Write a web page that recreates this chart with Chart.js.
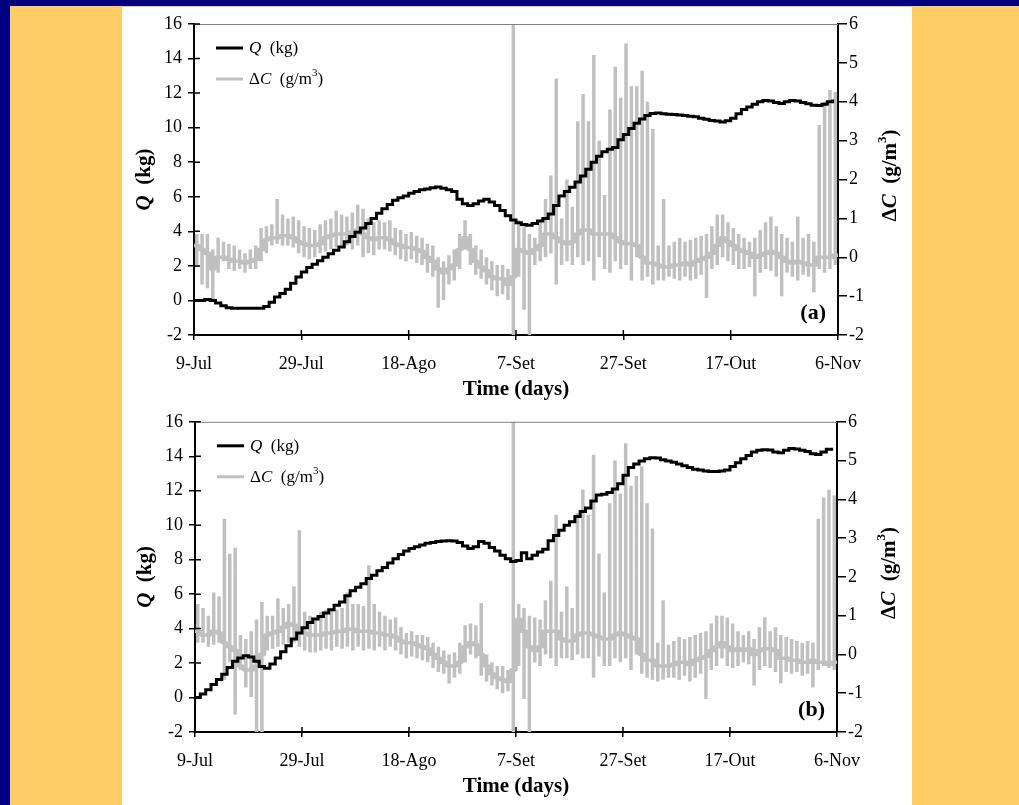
<!DOCTYPE html>
<html>
<head>
<meta charset="utf-8">
<title>Q e ΔC</title>
<script src="https://cdn.jsdelivr.net/npm/chart.js@4.4.1/dist/chart.umd.min.js"></script>
<style>
  html, body { margin: 0; padding: 0; }
  body { width: 1019px; height: 805px; background: #ffcc66; position: relative; overflow: hidden; }
  #barraTopo { position: absolute; left: 0; top: 0; width: 1019px; height: 6px; background: #000080; }
  #barraEsq { position: absolute; left: 0; top: 0; width: 10px; height: 805px; background: #000080; }
  #painel { position: absolute; left: 122px; top: 7px; width: 790px; height: 798px; background: #fff; }
  canvas { position: absolute; left: 122px; }
  #graficoA { top: 7px; }
  #graficoB { top: 405px; }
</style>
</head>
<body>
<div id="barraTopo"></div>
<div id="barraEsq"></div>
<div id="painel"></div>
<canvas id="graficoA" width="790" height="398"></canvas>
<canvas id="graficoB" width="790" height="400"></canvas>
<script>
// dias desde 9-Jul (0..120), um rotulo a cada 20 dias
var rotulosDias = ["9-Jul", "29-Jul", "18-Ago", "7-Set", "27-Set", "17-Out", "6-Nov"];

// (a) Q diario (kg)
var qA = [
  0.0, 0.0, 0.05, 0.0, -0.15, -0.3, -0.42, -0.45, -0.45, -0.45,
  -0.45, -0.45, -0.45, -0.35, -0.1, 0.2, 0.4, 0.65, 1.0, 1.35,
  1.65, 1.9, 2.1, 2.3, 2.5, 2.7, 2.9, 3.1, 3.4, 3.7,
  3.95, 4.2, 4.45, 4.75, 5.05, 5.3, 5.55, 5.8, 5.95, 6.05,
  6.2, 6.3, 6.4, 6.45, 6.52, 6.56, 6.5, 6.4, 6.3, 5.85,
  5.6, 5.5, 5.6, 5.75, 5.85, 5.7, 5.5, 5.2, 4.9, 4.65,
  4.5, 4.4, 4.35, 4.45, 4.6, 4.75, 5.0, 5.5, 6.05, 6.3,
  6.55, 6.85, 7.2, 7.6, 8.0, 8.35, 8.6, 8.75, 8.85, 9.3,
  9.6, 9.95, 10.25, 10.5, 10.7, 10.82, 10.85, 10.8, 10.78, 10.76,
  10.74, 10.7, 10.66, 10.63, 10.55, 10.48, 10.42, 10.38, 10.33, 10.4,
  10.55, 10.8, 11.05, 11.2, 11.35, 11.5, 11.57, 11.55, 11.45, 11.4,
  11.5, 11.57, 11.55, 11.45, 11.38, 11.3, 11.28, 11.35, 11.5, 11.63
];
// (a) ΔC por dia: nivel, pico e vale (g/m3)
var baseA = [
  0.3, 0.2, 0.1, -0.3, 0.0, 0.0, -0.05, -0.1, -0.1, -0.15,
  -0.1, -0.05, 0.2, 0.45, 0.5, 0.5, 0.55, 0.55, 0.5, 0.4,
  0.35, 0.3, 0.3, 0.35, 0.5, 0.55, 0.6, 0.6, 0.6, 0.65,
  0.7, 0.6, 0.5, 0.45, 0.5, 0.5, 0.45, 0.35, 0.3, 0.25,
  0.25, 0.2, 0.15, 0.0, -0.1, -0.3, -0.4, -0.3, -0.2, 0.2,
  0.5, 0.2, -0.1, -0.25, -0.35, -0.5, -0.55, -0.55, -0.7, -0.5,
  0.2, 0.15, 0.1, 0.2, 0.3, 0.6, 0.6, 0.5, 0.4, 0.35,
  0.4, 0.6, 0.7, 0.7, 0.6, 0.6, 0.6, 0.6, 0.5, 0.4,
  0.35, 0.35, 0.3, 0.0, -0.15, -0.15, -0.2, -0.25, -0.25, -0.2,
  -0.2, -0.15, -0.2, -0.1, -0.05, 0.0, 0.1, 0.3, 0.5, 0.4,
  0.3, 0.2, 0.15, 0.1, 0.0, 0.05, 0.1, 0.15, 0.1, 0.0,
  -0.1, -0.15, -0.1, -0.15, -0.2, -0.2, 0.0, 0.0, 0.0, 0.05
];
var altoA = [
  0.6, 0.6, 0.6, 0.2, 0.5, 0.4, 0.35, 0.3, 0.2, 0.1,
  0.2, 0.3, 0.75, 0.8, 0.85, 1.5, 1.1, 1.0, 1.05, 0.95,
  0.8, 0.75, 0.7, 0.85, 0.95, 1.0, 1.2, 1.1, 1.05, 1.15,
  1.35, 1.25, 1.0, 0.9, 0.95, 0.9, 0.95, 0.75, 0.7, 0.6,
  0.65, 0.55, 0.5, 0.35, 0.3, 0.0, -0.1, 0.05, 0.2, 0.6,
  0.95, 0.6, 0.3, 0.2, 0.0, -0.1, -0.2, -0.2, -0.3, 6.0,
  0.95, 0.8, 0.6, 0.5, 0.9, 1.5, 2.1, 4.6, 1.0, 2.0,
  1.3, 3.5, 4.2, 3.5, 5.2, 3.0, 1.6, 3.8, 4.9, 4.1,
  5.5, 4.4, 4.4, 4.8, 4.0, 3.3, 0.3, 1.5, 0.3, 0.4,
  0.5, 0.4, 0.45, 0.5, 0.55, 0.6, 0.8, 1.1, 1.1, 0.9,
  0.75, 0.6, 0.5, 0.4, 0.5, 0.7, 0.9, 1.05, 0.8, 0.6,
  0.5, 0.4, 1.05, 0.5, 0.6, 0.4, 3.4, 4.0, 4.3, 4.25
];
var baixoA = [
  -0.25, -0.7, -0.8, -1.1, -0.4, -0.1, -0.3, -0.35, -0.3, -0.4,
  -0.3, -0.3, -0.1, 0.1, 0.3, 0.35, 0.3, 0.3, 0.25, 0.1,
  0.0, -0.05, 0.0, 0.1, 0.15, 0.2, 0.25, 0.3, 0.3, 0.2,
  0.3, 0.0, 0.1, 0.05, 0.2, 0.2, 0.15, 0.05, -0.05, -0.1,
  -0.05, -0.15, -0.2, -0.4, -0.5, -1.3, -1.1, -0.7, -0.6, -0.3,
  0.2, -0.2, -0.45, -0.55, -0.7, -0.85, -1.0, -0.95, -1.1, -2.0,
  -0.5, -1.35, -2.0, -0.2, -0.1, 0.0, 0.1, -0.7, -0.2, -0.1,
  -0.2, 0.0, -0.2, -0.1, -0.6, 0.0, -0.3, -0.4, -0.1, -0.3,
  -0.2, -0.6, 0.0, -0.6, -0.5, -0.7, -0.6, -0.6, -0.5, -0.55,
  -0.6, -0.5, -0.6, -0.55, -0.45, -1.05, -0.3, -0.2, 0.0, -0.1,
  -0.2, -0.3, -0.3, -0.25, -1.0, -0.4, -0.3, -0.35, -0.5, -1.0,
  -0.4, -0.5, -0.6, -0.45, -0.5, -0.9, -0.3, -0.4, -0.3, -0.2
];

// (b) Q diario (kg)
var qB = [
  0.0, 0.2, 0.45, 0.75, 1.05, 1.35, 1.75, 2.1, 2.3, 2.42,
  2.35, 2.1, 1.8, 1.7, 1.95, 2.3, 2.65, 3.0, 3.4, 3.75,
  4.05, 4.35, 4.55, 4.7, 4.9, 5.1, 5.35, 5.55, 5.9, 6.2,
  6.4, 6.6, 6.9, 7.1, 7.35, 7.55, 7.8, 8.05, 8.3, 8.5,
  8.65, 8.75, 8.85, 8.95, 9.0, 9.05, 9.08, 9.1, 9.08, 9.0,
  8.8, 8.65, 8.75, 9.05, 8.95, 8.7, 8.5, 8.25, 8.05, 7.9,
  7.95, 8.4, 8.05, 8.25, 8.45, 8.6, 9.1, 9.4, 9.7, 10.0,
  10.2, 10.5, 10.8, 11.0, 11.4, 11.75, 11.8, 11.9, 12.1, 12.4,
  12.9, 13.35, 13.55, 13.72, 13.85, 13.92, 13.9, 13.8, 13.72, 13.65,
  13.55, 13.45, 13.35, 13.25, 13.2, 13.15, 13.12, 13.12, 13.14, 13.2,
  13.4, 13.62, 13.85, 14.05, 14.25, 14.35, 14.38, 14.36, 14.25, 14.2,
  14.35, 14.45, 14.42, 14.35, 14.28, 14.15, 14.1, 14.25, 14.4, 14.5
];
// (b) ΔC por dia: nivel, pico e vale (g/m3)
var baseB = [
  0.6, 0.5, 0.5, 0.6, 0.55, 0.3, 0.2, 0.1, -0.3, -0.4,
  -0.4, -0.3, 0.0, 0.5, 0.55, 0.6, 0.7, 0.8, 0.75, 0.6,
  0.55, 0.5, 0.5, 0.5, 0.55, 0.55, 0.6, 0.6, 0.65, 0.65,
  0.6, 0.6, 0.6, 0.55, 0.55, 0.5, 0.5, 0.45, 0.35, 0.3,
  0.3, 0.25, 0.2, 0.15, 0.0, -0.1, -0.2, -0.3, -0.3, -0.2,
  0.2, 0.3, 0.25, 0.0, -0.3, -0.5, -0.6, -0.65, -0.7, -0.4,
  0.9, 0.6, 0.2, 0.1, 0.2, 0.6, 0.6, 0.6, 0.4, 0.35,
  0.35, 0.5, 0.55, 0.55, 0.5, 0.45, 0.4, 0.4, 0.5, 0.55,
  0.5, 0.45, 0.4, 0.0, -0.15, -0.15, -0.3, -0.3, -0.3, -0.25,
  -0.2, -0.2, -0.25, -0.15, -0.1, -0.05, 0.1, 0.2, 0.3, 0.2,
  0.1, 0.15, 0.1, 0.15, 0.0, 0.1, 0.15, 0.15, 0.1, -0.1,
  -0.1, -0.15, -0.15, -0.2, -0.2, -0.15, -0.2, -0.2, -0.25, -0.2
];
var altoB = [
  1.3, 1.2, 1.0, 1.6, 1.5, 3.5, 2.6, 2.75, 0.5, 0.4,
  0.6, 0.9, 1.35, 1.0, 1.0, 1.45, 1.2, 1.3, 1.75, 3.2,
  1.1, 1.0, 0.9, 1.1, 1.15, 1.2, 1.15, 1.2, 1.6, 1.3,
  1.3, 1.25, 2.3, 1.3, 1.1, 1.0, 0.9, 0.95, 0.7, 0.55,
  0.6, 0.5, 0.5, 0.45, 0.3, 0.2, 0.1, 0.0, 0.05, 0.3,
  0.75, 0.8, 0.75, 1.33, 0.0, -0.2, -0.3, -0.3, -0.4, 6.0,
  1.3, 1.2, 1.0, 0.95, 0.9, 1.4, 1.9, 3.6, 1.1, 1.75,
  1.2, 3.65, 4.25, 3.6, 5.15, 2.6, 1.6, 3.9, 5.0, 4.15,
  5.45, 4.35, 4.6, 4.85, 3.9, 3.25, 0.3, 1.4, 0.25, 0.35,
  0.45, 0.4, 0.45, 0.5, 0.55, 0.6, 0.8, 1.0, 1.0, 0.95,
  0.8, 0.6, 0.5, 0.6, 0.4, 0.7, 0.95, 0.6, 0.7, 0.5,
  0.45, 0.4, 0.35, 0.3, 0.35, 0.3, 3.5, 4.05, 4.25, 4.1
];
var baixoB = [
  0.3, 0.3, 0.2, 0.25, 0.3, -0.65, -0.2, -1.55, -0.4, -0.85,
  -1.1, -2.0, -2.0, 0.1, 0.15, 0.2, 0.25, 0.3, 0.3, 0.2,
  0.1, 0.05, 0.05, 0.1, 0.15, 0.1, 0.2, 0.15, 0.2, 0.1,
  0.2, 0.1, 0.15, 0.1, 0.2, 0.1, 0.2, 0.1, 0.0, -0.1,
  -0.05, -0.1, -0.15, -0.2, -0.35, -0.45, -0.5, -0.75, -0.6, -0.5,
  -0.2, 0.0, -0.1, -0.55, -0.7, -0.8, -0.9, -1.0, -0.95, -2.0,
  -0.3, -1.15, -2.0, -0.2, -0.3, 0.0, -0.1, -0.3, -0.1, -0.1,
  -0.15, 0.0, -0.1, -0.1, -0.6, -0.05, -0.3, -0.3, -0.1, -0.2,
  -0.1, -0.4, 0.0, -0.5, -0.6, -0.65, -0.7, -0.65, -0.6, -0.6,
  -0.65, -0.55, -0.7, -0.6, -0.5, -1.15, -0.4, -0.3, -0.1, -0.3,
  -0.35, -0.3, -0.2, -0.25, -0.8, -0.4, -0.3, -0.35, -0.45, -0.75,
  -0.45, -0.5, -0.45, -0.55, -0.5, -0.85, -0.4, -0.3, -0.35, -0.4
];

var serif = "'Liberation Serif', 'Times New Roman', serif";
Chart.defaults.font.family = serif;
Chart.defaults.color = '#000';

function pontosQ(q) {
    return q.map(function(v, i) { return { x: i, y: v }; });
}

// cada dia: patamar, traco vertical do pico ao vale no meio do dia, degrau no fim
function pontosDc(base, alto, baixo) {
    var pts = [];
    for (var i = 0; i < base.length; i++) {
        pts.push({ x: i, y: base[i] });
        pts.push({ x: i + 0.5, y: base[i] });
        pts.push({ x: i + 0.5, y: alto[i] });
        pts.push({ x: i + 0.5, y: baixo[i] });
        pts.push({ x: i + 0.5, y: base[i] });
        pts.push({ x: i + 1, y: base[i] });
    }
    return pts;
}

function largura(ctx, partes) {
    var w = 0;
    partes.forEach(function(p) { ctx.font = p.f; w += ctx.measureText(p.t).width; });
    return w;
}

function escreve(ctx, x, y, partes) {
    partes.forEach(function(p) {
        ctx.font = p.f;
        ctx.fillText(p.t, x, y + (p.dy || 0));
        x += ctx.measureText(p.t).width;
    });
}

var decoracao = {
    id: 'decoracao',
    afterDraw: function(chart, args, o) {
        var ctx = chart.ctx, a = chart.chartArea;
        var sx = chart.scales.x, sy = chart.scales.y;
        ctx.save();

        ctx.strokeStyle = '#808080';
        ctx.lineWidth = 1;
        ctx.beginPath();
        ctx.moveTo(a.left, a.top + 0.5);
        ctx.lineTo(a.right, a.top + 0.5);
        ctx.stroke();

        ctx.strokeStyle = '#000';
        ctx.lineWidth = 1.5;
        ctx.beginPath();
        sx.ticks.forEach(function(t) {
            var p = sx.getPixelForValue(t.value);
            ctx.moveTo(p, a.bottom); ctx.lineTo(p, a.bottom - 5);
        });
        sy.ticks.forEach(function(t) {
            var p = sy.getPixelForValue(t.value);
            ctx.moveTo(a.left, p); ctx.lineTo(a.left + 6, p);
        });
        ctx.stroke();

        // legenda
        var lx = a.left + 22, ly1 = a.top + 24, ly2 = a.top + 55;
        ctx.lineWidth = 3;
        ctx.strokeStyle = '#000';
        ctx.beginPath(); ctx.moveTo(lx, ly1); ctx.lineTo(lx + 27, ly1); ctx.stroke();
        ctx.strokeStyle = '#c0c0c0';
        ctx.beginPath(); ctx.moveTo(lx, ly2); ctx.lineTo(lx + 27, ly2); ctx.stroke();
        ctx.fillStyle = '#000';
        ctx.textBaseline = 'middle';
        ctx.textAlign = 'left';
        escreve(ctx, lx + 33, ly1 + 1, [
            { t: 'Q', f: 'italic 17px ' + serif },
            { t: '  (kg)', f: '17px ' + serif }
        ]);
        escreve(ctx, lx + 33, ly2 + 1, [
            { t: 'Δ', f: '17px ' + serif },
            { t: 'C', f: 'italic 17px ' + serif },
            { t: '  (g/m', f: '17px ' + serif },
            { t: '3', f: '11px ' + serif, dy: -7 },
            { t: ')', f: '17px ' + serif }
        ]);

        // titulos dos eixos
        var meioY = (a.top + a.bottom) / 2;
        var tQ = [
            { t: 'Q', f: 'bold italic 21px ' + serif },
            { t: '  (kg)', f: 'bold 21px ' + serif }
        ];
        ctx.save();
        ctx.translate(a.left - 49, meioY);
        ctx.rotate(-Math.PI / 2);
        escreve(ctx, -largura(ctx, tQ) / 2, 0, tQ);
        ctx.restore();

        var tC = [
            { t: 'Δ', f: 'bold 21px ' + serif },
            { t: 'C', f: 'bold italic 21px ' + serif },
            { t: '  (g/m', f: 'bold 21px ' + serif },
            { t: '3', f: 'bold 13px ' + serif, dy: -8 },
            { t: ')', f: 'bold 21px ' + serif }
        ];
        ctx.save();
        ctx.translate(a.right + 53, meioY - 4);
        ctx.rotate(-Math.PI / 2);
        escreve(ctx, -largura(ctx, tC) / 2, 0, tC);
        ctx.restore();

        ctx.textAlign = 'center';
        ctx.font = 'bold 21px ' + serif;
        ctx.fillText('Time (days)', (a.left + a.right) / 2, a.bottom + 55);

        ctx.textAlign = 'right';
        ctx.font = 'bold 22px ' + serif;
        ctx.fillText(o.etiqueta, a.right - 12, a.bottom - 22);

        ctx.restore();
    }
};

function desenhaPainel(id, q, base, alto, baixo, etiqueta, padTopo, largEsq, largDir, altX) {
    var ctx = document.getElementById(id).getContext('2d');
    return new Chart(ctx, {
        type: 'line',
        data: {
            datasets: [
                {
                    label: 'Q (kg)',
                    data: pontosQ(q),
                    yAxisID: 'y',
                    borderColor: '#000',
                    borderWidth: 3,
                    stepped: true,
                    pointRadius: 0,
                    order: 0
                },
                {
                    label: 'ΔC (g/m3)',
                    data: pontosDc(base, alto, baixo),
                    yAxisID: 'y2',
                    borderColor: '#c0c0c0',
                    borderWidth: 3.5,
                    borderJoinStyle: 'bevel',
                    pointRadius: 0,
                    tension: 0,
                    order: 1
                }
            ]
        },
        options: {
            responsive: false,
            animation: false,
            devicePixelRatio: 1,
            events: [],
            layout: { padding: { top: padTopo, left: 0, right: 0, bottom: 0 } },
            plugins: {
                legend: { display: false },
                tooltip: { enabled: false },
                decoracao: { etiqueta: etiqueta }
            },
            scales: {
                x: {
                    type: 'linear',
                    min: 0,
                    max: 120,
                    afterFit: function(s) { s.height = altX; },
                    border: { color: '#000', width: 2 },
                    grid: { drawOnChartArea: false, drawTicks: true, tickLength: 5, color: '#000', lineWidth: 1.5 },
                    ticks: {
                        stepSize: 20,
                        autoSkip: false,
                        maxRotation: 0,
                        padding: 13,
                        font: { size: 18 },
                        callback: function(v) { return rotulosDias[v / 20]; }
                    }
                },
                y: {
                    position: 'left',
                    min: -2,
                    max: 16,
                    afterFit: function(s) { s.width = largEsq; },
                    border: { color: '#000', width: 2 },
                    grid: { drawOnChartArea: false, tickLength: 6, color: '#000', lineWidth: 1.5 },
                    ticks: { stepSize: 2, padding: 6, font: { size: 18 } }
                },
                y2: {
                    position: 'right',
                    min: -2,
                    max: 6,
                    afterFit: function(s) { s.width = largDir; },
                    border: { color: '#000', width: 2 },
                    grid: { drawOnChartArea: false, tickLength: 9, color: '#000', lineWidth: 1.5 },
                    ticks: { stepSize: 1, padding: 2, font: { size: 18 } }
                }
            }
        },
        plugins: [decoracao]
    });
}

desenhaPainel('graficoA', qA, baseA, altoA, baixoA, '(a)', 17, 72, 74, 70);
desenhaPainel('graficoB', qB, baseB, altoB, baixoB, '(b)', 16, 73, 75, 73);
</script>
</body>
</html>
